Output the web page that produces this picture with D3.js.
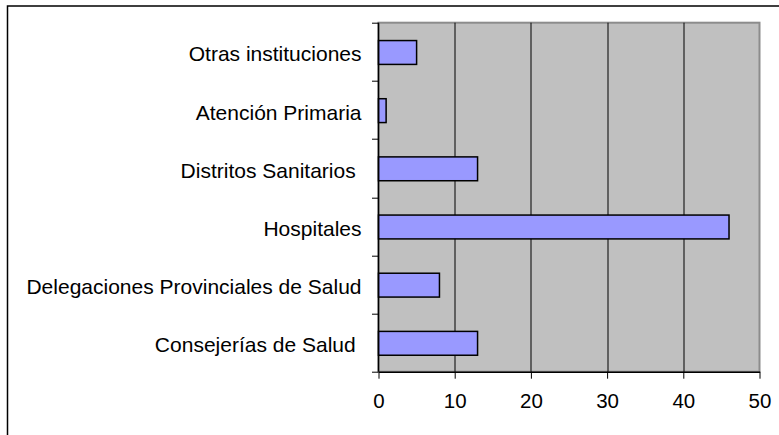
<!DOCTYPE html>
<html>
<head>
<meta charset="utf-8">
<script src="https://cdn.jsdelivr.net/npm/d3@7"></script>
<style>
  body { margin: 0; background: #fff; }
  svg { display: block; }
  text { font-family: "Liberation Sans", Arial, sans-serif; fill: #000; }
</style>
</head>
<body>
<div id="chart"></div>
<script>
// categories top to bottom, as in the picture
var categories = ["Otras instituciones", "Atención Primaria", "Distritos Sanitarios ", "Hospitales", "Delegaciones Provinciales de Salud", "Consejerías de Salud "]
var values = [5, 1, 13, 46, 8, 13]
var xTicks = [0, 10, 20, 30, 40, 50]

var W = 779, H = 435
var margin = {top: 22.7, right: 19.5, bottom: 63.3, left: 378.5},
    width = W - margin.left - margin.right,
    height = H - margin.top - margin.bottom;

var svg = d3.select("#chart").append("svg")
    .attr("width", W)
    .attr("height", H)

// outer chart border (runs off the right and bottom of the picture)
svg.append("rect")
    .attr("x", 7.5).attr("y", 6)
    .attr("width", W + 20).attr("height", H + 20)
    .attr("fill", "none")
    .attr("stroke", "#000")
    .attr("stroke-width", 1.5)

var g = svg.append("g")
    .attr("transform", "translate(" + margin.left + "," + margin.top + ")")

var x = d3.scaleLinear().domain([0, 50]).range([0, width])
var y = d3.scaleBand().domain(categories).range([0, height]).padding(0)

// plot area
g.append("rect")
    .attr("width", width).attr("height", height)
    .attr("fill", "#c0c0c0")
    .attr("stroke", "#8c8c8c")
    .attr("stroke-width", 2)

// vertical gridlines
g.append("g")
  .selectAll("line")
  .data(xTicks.filter(function(d) { return d > 0 && d < 50 }))
  .enter().append("line")
    .attr("x1", function(d) { return Math.round(x(d)) + 0.5 })
    .attr("x2", function(d) { return Math.round(x(d)) + 0.5 })
    .attr("y1", 0).attr("y2", height)
    .attr("stroke", "#000")
    .attr("stroke-width", 1)

// bars
var barH = y.bandwidth() * 0.41
g.append("g")
  .selectAll("rect")
  .data(categories)
  .enter().append("rect")
    .attr("x", x(0))
    .attr("y", function(d) { return y(d) + y.bandwidth() / 2 - barH / 2 + 0.7 })
    .attr("width", function(d, i) { return x(values[i]) - x(0) })
    .attr("height", barH)
    .attr("fill", "#9999ff")
    .attr("stroke", "#000")
    .attr("stroke-width", 1.5)

// x axis
var xAxis = g.append("g")
    .attr("transform", "translate(0," + height + ")")
    .call(d3.axisBottom(x).tickValues(xTicks).tickSize(7).tickSizeOuter(0))
xAxis.select(".domain").attr("stroke", "#000").attr("stroke-width", 1.5)
xAxis.selectAll(".tick line").attr("stroke", "#000")
xAxis.selectAll(".tick text")
    .attr("y", 22)
    .attr("dy", "0.71em")
    .style("font-size", "20.5px")
    .style("font-family", "'Liberation Sans', Arial, sans-serif")

// y axis line and ticks at band edges
var edges = categories.map(function(d) { return y(d) }).concat([height])
g.append("line")
    .attr("x1", 0).attr("x2", 0)
    .attr("y1", 0).attr("y2", height)
    .attr("stroke", "#000").attr("stroke-width", 1.5)
g.append("g")
  .selectAll("line")
  .data(edges)
  .enter().append("line")
    .attr("x1", -6.5).attr("x2", 0)
    .attr("y1", function(d) { return Math.round(d) + 0.5 })
    .attr("y2", function(d) { return Math.round(d) + 0.5 })
    .attr("stroke", "#000")

// category labels
g.append("g")
  .selectAll("text")
  .data(categories)
  .enter().append("text")
    .attr("x", -17)
    .attr("y", function(d) { return y(d) + y.bandwidth() / 2 + 9.7 })
    .attr("text-anchor", "end")
    .attr("xml:space", "preserve")
    .style("white-space", "pre")
    .style("font-size", "21px")
    .text(function(d) { return d })
</script>
</body>
</html>
